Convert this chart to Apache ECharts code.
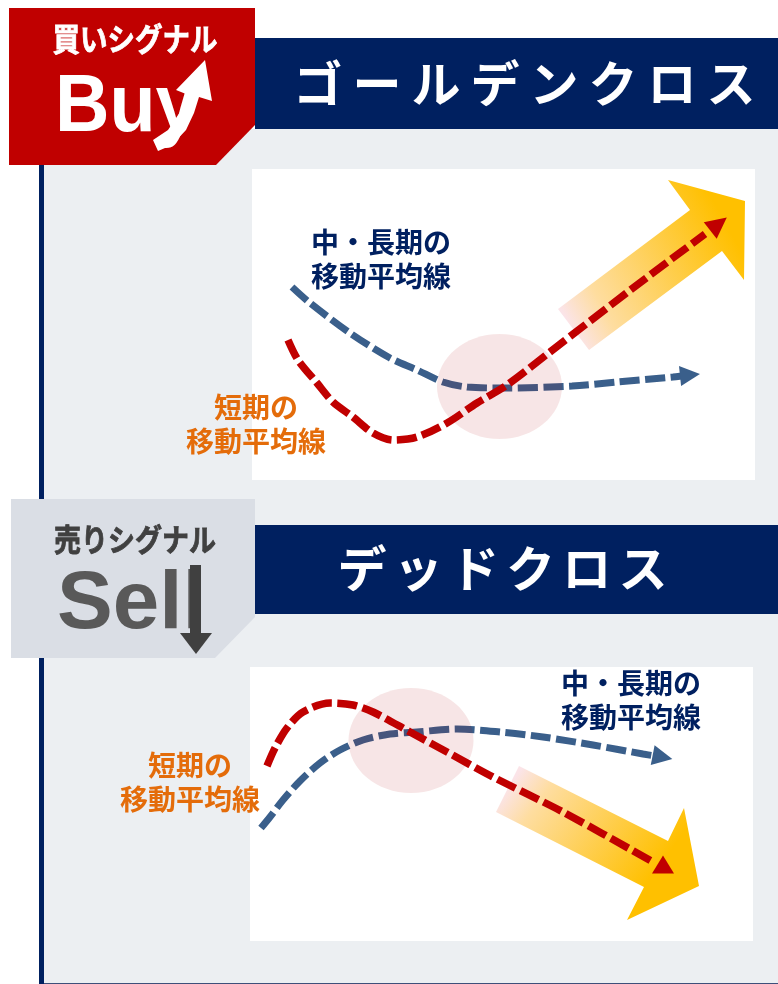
<!DOCTYPE html>
<html>
<head>
<meta charset="utf-8">
<style>
  html, body { margin: 0; padding: 0; background: #fff; }
  #chart { width: 778px; height: 984px; }
</style>
<script src="https://cdn.jsdelivr.net/npm/echarts@6/dist/echarts.min.js"></script>
</head>
<body>
<div id="chart"></div>
<script>
// values are in panel units: x from the panel's left edge, y up from its bottom edge
const goldenShort = [[36, 140], [46, 120], [65, 97], [81, 78], [101, 63], [121, 47], [141, 40], [165, 43], [195, 57], [225, 77], [255, 95], [298, 128], [381, 192], [453, 246]]
const goldenLong = [[40, 193], [58, 177], [98, 147], [138, 122], [165, 110], [191, 98], [215, 93], [255, 92], [320, 94], [365, 98], [421, 103], [438, 105]]
const deadShort = [[17, 175], [25, 193], [37, 213], [53, 229], [80, 238], [103, 236], [123, 229], [160, 209], [197, 189], [243, 164], [313, 129], [403, 79]]
const deadLong = [[11, 113], [20, 124], [33, 141], [50, 160], [70, 178], [90, 191], [113, 201], [140, 207], [167, 209], [207, 212], [250, 209], [293, 204], [343, 196], [393, 187], [405, 185]]

const goldenShortHead = [466.5, 256]
const goldenLongHead = [438, 105]
const deadShortHead = [413, 76.5]
const deadLongHead = [412.5, 184]

const goldenTrend = [[306, 171], [438, 270], [416, 300], [493, 279], [492, 200], [470, 229], [337, 130]]
const deadTrend = [[269, 175], [418, 100], [434, 133], [449, 55], [377, 21], [394, 54], [246, 129]]

const goldenCross = [247.5, 93.5]
const deadCross = [161, 200.5]
const crossRadius = [62.5, 52.5]

const goldenTitle = 'ゴールデンクロス'
const deadTitle = 'デッドクロス'
const longLabel = '中・長期の\n移動平均線'
const shortLabel = '短期の\n移動平均線'

const NAVY = '#002060'
const RED = '#C00000'
const BLUE = '#3A5F8B'
const ORANGE = '#E46C0A'
const PANEL = '#ECEFF2'
const JP = '"Noto Sans CJK JP", sans-serif'
const LATIN = 'bold 82px "Liberation Sans", sans-serif'

const chart = echarts.init(document.getElementById('chart'), null, { renderer: 'canvas' })

function rect (x, y, width, height, fill) {
  return { type: 'rect', shape: { x, y, width, height }, style: { fill } }
}
function poly (points, fill) {
  return { type: 'polygon', shape: { points }, style: { fill } }
}
function label (text, x, y, size, fill, extra) {
  return Object.assign({
    type: 'text',
    x,
    y,
    style: { text, fill, font: `bold ${size}px ${JP}`, align: 'center', verticalAlign: 'middle', lineHeight: 34 }
  }, extra)
}
function spaced (text, startX, pitch, y) {
  return text.split('').map((c, i) => label(c, startX + i * pitch, y, 49, '#fff'))
}
function signal (text, x, y, size, fill) {
  const el = label(text, x, y, size, fill, { scaleY: 1.14 })
  el.style.stroke = fill
  el.style.lineWidth = 0.7
  return el
}

const backdrop = [
  rect(44, 129, 734, 855, PANEL),
  rect(39, 160, 5, 824, NAVY),
  rect(44, 983, 734, 1, '#3D4F7A'),
  rect(255, 38, 523, 91, NAVY),
  rect(255, 525, 523, 89, NAVY),
  rect(252, 169, 503, 311, '#fff'),
  rect(250, 667, 503, 274, '#fff'),
  poly([[9, 8], [255, 8], [255, 125], [216, 165], [9, 165]], RED),
  poly([[11, 499], [255, 499], [255, 617], [215, 658], [11, 658]], '#DADEE5'),
  ...spaced(goldenTitle, 318, 59, 83),
  ...spaced(deadTitle, 362, 56.2, 568),
  signal('買いシグナル', 135, 39, 27.5, '#fff'),
  signal('売りシグナル', 135, 539, 27, '#404040'),
  {
    type: 'text',
    x: 55,
    y: 108,
    scaleX: 0.92,
    style: { text: 'Buy', fill: '#fff', font: LATIN, align: 'left', verticalAlign: 'middle' }
  },
  poly([[153, 140], [158, 151], [172, 145], [186, 130], [194, 113], [199, 97], [212, 101], [205, 60], [176, 90], [186, 94], [180, 112], [168, 130]], '#fff'),
  {
    type: 'text',
    x: 57,
    y: 605,
    scaleX: 1.02,
    style: { text: 'Sell', fill: '#595959', font: LATIN, align: 'left', verticalAlign: 'middle' }
  },
  rect(190, 565, 11, 69, '#404040'),
  poly([[180, 633], [212, 633], [196, 654]], '#404040'),
  label(longLabel, 381, 259, 28, NAVY),
  label(shortLabel, 256, 424, 28, ORANGE),
  label(longLabel, 631, 700, 28, NAVY),
  label(shortLabel, 190, 782, 28, ORANGE)
]

// the circle sits over the blue line and under the red one
function ellipseSeries (center, gridIndex) {
  return {
    type: 'custom',
    xAxisIndex: gridIndex,
    yAxisIndex: gridIndex,
    z: 3.5,
    silent: true,
    data: [center],
    renderItem (params, api) {
      const c = api.coord(center)
      const r = api.size(crossRadius)
      return {
        type: 'ellipse',
        shape: { cx: c[0], cy: c[1], rx: r[0], ry: r[1] },
        style: { fill: 'rgba(176,0,10,0.1)' }
      }
    }
  }
}

function trendSeries (outline, gradient, gridIndex) {
  return {
    type: 'custom',
    xAxisIndex: gridIndex,
    yAxisIndex: gridIndex,
    z: 1,
    silent: true,
    data: [outline[0]],
    renderItem (params, api) {
      return {
        type: 'polygon',
        shape: { points: outline.map(p => api.coord(p)) },
        style: {
          fill: new echarts.graphic.LinearGradient(gradient[0], gradient[1], gradient[2], gradient[3], [
            { offset: 0, color: '#FBE4E8' },
            { offset: 0.2, color: '#FEDDA0' },
            { offset: 1, color: '#FFC000' }
          ])
        }
      }
    }
  }
}

function lineSeries (data, color, gridIndex, z, width) {
  return {
    type: 'line',
    xAxisIndex: gridIndex,
    yAxisIndex: gridIndex,
    data,
    smooth: 0.3,
    symbol: 'none',
    z,
    silent: true,
    lineStyle: { color, width, type: [20, 5.5], cap: 'butt' }
  }
}

function headSeries (point, color, gridIndex, rotate, size, z) {
  return {
    type: 'scatter',
    xAxisIndex: gridIndex,
    yAxisIndex: gridIndex,
    data: [point],
    symbol: 'triangle',
    symbolSize: size,
    symbolRotate: rotate,
    itemStyle: { color, opacity: 1 },
    z,
    silent: true
  }
}

const option = {
  animation: false,
  backgroundColor: '#fff',
  graphic: { elements: backdrop },
  grid: [
    { left: 252, top: 169, width: 503, height: 311 },
    { left: 250, top: 667, width: 503, height: 274 }
  ],
  xAxis: [
    { type: 'value', gridIndex: 0, min: 0, max: 503, show: false },
    { type: 'value', gridIndex: 1, min: 0, max: 503, show: false }
  ],
  yAxis: [
    { type: 'value', gridIndex: 0, min: 0, max: 311, show: false },
    { type: 'value', gridIndex: 1, min: 0, max: 274, show: false }
  ],
  series: [
    trendSeries(goldenTrend, [0.06, 0.85, 0.93, 0.32], 0),
    lineSeries(goldenLong, BLUE, 0, 3, 7),
    ellipseSeries(goldenCross, 0),
    lineSeries(goldenShort, RED, 0, 4, 7.5),
    headSeries(goldenLongHead, BLUE, 0, -84, [20, 20], 3),
    headSeries(goldenShortHead, RED, 0, -52, [21, 21], 4),
    trendSeries(deadTrend, [0.05, 0.15, 0.72, 0.8], 1),
    lineSeries(deadLong, BLUE, 1, 3, 7),
    ellipseSeries(deadCross, 1),
    lineSeries(deadShort, RED, 1, 4, 7.5),
    headSeries(deadLongHead, BLUE, 1, -101, [20, 20], 3),
    headSeries(deadShortHead, RED, 1, 0, [22, 18], 4)
  ]
}

chart.setOption(option)
</script>
</body>
</html>
